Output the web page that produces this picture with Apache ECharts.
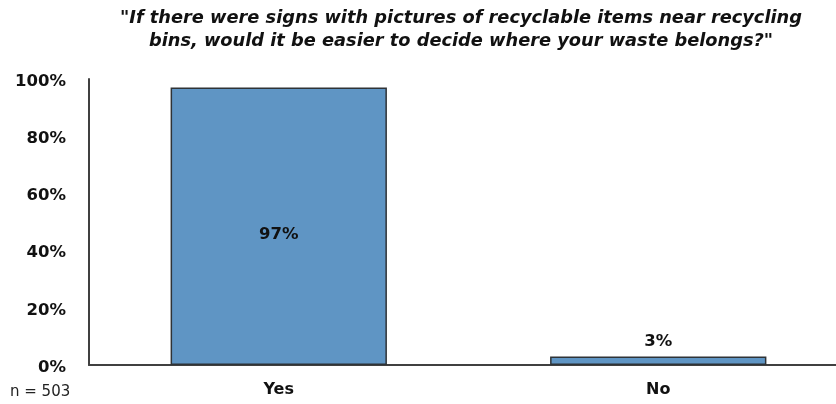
<!DOCTYPE html>
<html>
<head>
<meta charset="utf-8">
<script src="https://cdn.jsdelivr.net/npm/echarts@6/dist/echarts.min.js"></script>
<style>
  html, body { margin: 0; padding: 0; background: #ffffff; }
  #chart { width: 836px; height: 404px; }
</style>
</head>
<body>
<div id="chart"></div>
<script>
// Survey answers and their shares (percent)
const categories = ['Yes', 'No'];
const shares = [97, 3];
const yTicks = [0, 20, 40, 60, 80, 100];
const titleLines = [
  '"If there were signs with pictures of recyclable items near recycling',
  'bins, would it be easier to decide where your waste belongs?"'
];
const sampleNote = 'n = 503';

const chart = echarts.init(document.getElementById('chart'), null, { renderer: 'canvas' });

const font = '"DejaVu Sans", "Open Sans", sans-serif';

chart.setOption({
  animation: false,
  backgroundColor: '#ffffff',
  title: {
    text: titleLines.join('\n'),
    left: 456,
    top: 2,
    textAlign: 'center',
    textStyle: {
      fontFamily: font,
      fontSize: 17.8,
      fontWeight: 'bold',
      fontStyle: 'italic',
      color: '#111111',
      lineHeight: 23
    }
  },
  graphic: [{
    type: 'text',
    left: 10,
    top: 385,
    style: {
      text: sampleNote,
      fontFamily: font,
      fontSize: 15,
      fill: '#222222'
    }
  }],
  grid: {
    left: 89,
    top: 79,
    width: 759,
    height: 286,
    containLabel: false,
    outerBoundsMode: 'none'
  },
  xAxis: {
    type: 'category',
    data: categories,
    axisLine: { show: true, lineStyle: { color: '#404040', width: 2 } },
    axisTick: { show: false },
    axisLabel: {
      margin: 17,
      fontFamily: font,
      fontSize: 16,
      fontWeight: 'bold',
      color: '#111111'
    }
  },
  yAxis: {
    type: 'value',
    min: yTicks[0],
    max: yTicks[yTicks.length - 1],
    interval: yTicks[1] - yTicks[0],
    axisLine: { show: true, lineStyle: { color: '#404040', width: 2 } },
    axisTick: { show: false },
    splitLine: { show: false },
    axisLabel: {
      margin: 23,
      // tick labels sit slightly below their tick positions
      formatter: '{t|{value}%}',
      rich: {
        t: {
          padding: [5, 0, 0, 0],
          fontFamily: font,
          fontSize: 16.5,
          fontWeight: 'bold',
          color: '#111111'
        }
      }
    }
  },
  series: [{
    type: 'bar',
    barWidth: '57%',
    itemStyle: {
      color: '#5f95c4',
      borderColor: '#2f3336',
      borderWidth: 1.5
    },
    label: {
      show: true,
      formatter: '{c}%',
      fontFamily: font,
      fontSize: 16.5,
      fontWeight: 'bold',
      color: '#111111'
    },
    // The large bar's label sits a little below the bar's middle
    data: shares.map(v => v > 50
      ? { value: v, label: { position: 'inside', offset: [0, 8] } }
      : { value: v, label: { position: 'top', distance: 6 } })
  }]
});
</script>
</body>
</html>
